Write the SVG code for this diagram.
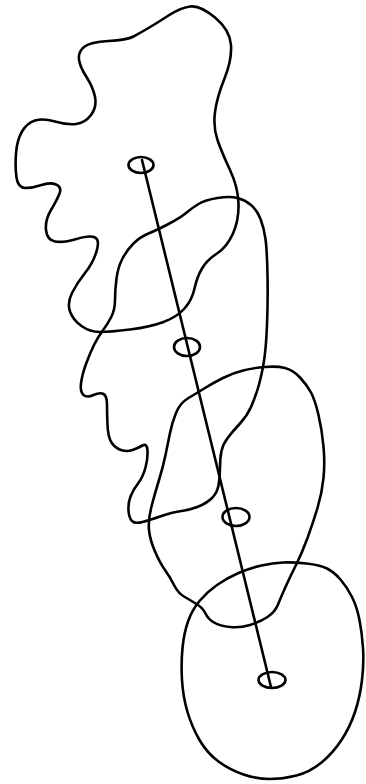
<svg xmlns="http://www.w3.org/2000/svg" width="366" height="784" viewBox="0 0 366 784">
<style>
.s{fill:none;stroke:#000;stroke-width:2.6;stroke-linejoin:round;stroke-linecap:round}
</style>
<rect width="366" height="784" fill="#fff"/>
<g id="blob1"><path class="s" d="M190,6.5 Q200,5 215,17.5 Q230,30 231,45 Q232,60 224.5,78.5 Q217,97 215,112 Q213,127 217.5,140 Q222,153 230,170 Q238,187 238.5,203.5 Q239,220 233,233.5 Q227,247 217,253.5 Q207,260 202,268.5 Q197,277 194.5,288.5 Q192,300 184.5,308.5 Q177,317 163.5,322 Q150,327 130,329.5 Q110,332 100,332 Q90,332 81.5,326 Q73,320 70,311.5 Q67,303 72,293 Q77,283 85,273 Q93,263 96.5,251.5 Q100,240 95,237.5 Q90,235 76.5,239 Q63,243 55,241.5 Q47,240 46,230 Q45,220 51,210 Q57,200 59.5,193.5 Q62,187 56,184.5 Q50,182 41.5,185 Q33,188 25.5,188 Q18,188 16.5,177.5 Q15,167 16,153.5 Q17,140 22,131.5 Q27,123 35,120.5 Q43,118 55,121.5 Q67,125 76,124 Q85,123 91,115 Q97,107 95,97 Q93,87 86.5,77 Q80,67 79,59.5 Q78,52 84,47 Q90,42 108.5,41 Q127,40 133.5,36.5 Q140,33 148.5,28 Q157,23 168.5,15.5 Q180,8 190,6.5 Z"/></g>
<g id="blob2"><path class="s" d="M217.5,198 Q230,196 237.5,198 Q245,200 251,205 Q257,210 260.5,219 Q264,228 265.5,239 Q267,250 267.5,275 Q268,300 267,325 Q266,350 263.5,364 Q261,378 258,388 Q255,398 251,407 Q247,416 240,423.5 Q233,431 228,437.5 Q223,444 221.5,451 Q220,458 220,468 Q220,478 218.5,485.5 Q217,493 212,498 Q207,503 198.5,506.5 Q190,510 181.5,511 Q173,512 161.5,516 Q150,520 142.5,522 Q135,524 132,521 Q129,518 128.5,510.5 Q128,503 130.5,496.5 Q133,490 138,483.5 Q143,477 145.5,467.5 Q148,458 147.5,450.5 Q147,443 142.5,445.5 Q138,448 132.5,450 Q127,452 121,450 Q115,448 111.5,442.5 Q108,437 107.5,425 Q107,413 107,404.5 Q107,396 103.5,394 Q100,392 93.5,395 Q87,398 83.5,395 Q80,392 81,383.5 Q82,375 86,364 Q90,353 94,345 Q98,337 102.5,331 Q107,325 111,317.5 Q115,310 115,300 Q115,290 116.5,278.5 Q118,267 122.5,258.5 Q127,250 133.5,243.5 Q140,237 148.5,233.5 Q157,230 168.5,224 Q180,218 186,213 Q192,208 198.5,204 Q205,200 217.5,198 Z"/></g>
<g id="blob3"><path class="s" d="M265,367 Q277,366 285,368 Q293,370 300,377.5 Q307,385 311,392.5 Q315,400 318.5,415 Q322,430 323.5,446.5 Q325,463 323.5,478 Q322,493 317.5,508 Q313,523 307.5,538 Q302,553 296,565 Q290,577 285.5,587 Q281,597 278,604.5 Q275,612 267.5,617 Q260,622 250,625 Q240,628 230,627 Q220,626 214,622.5 Q208,619 205.5,613.5 Q203,608 196.5,604 Q190,600 184,596.5 Q178,593 174,585 Q170,577 165,570 Q160,563 155,551.5 Q150,540 149,530 Q148,520 151.5,506.5 Q155,493 159,480 Q163,467 165.5,455 Q168,443 170,433 Q172,423 176,413 Q180,403 188.5,398 Q197,393 205,388 Q213,383 223,378 Q233,373 243,370.5 Q253,368 265,367 Z"/></g>
<g id="blob4"><path class="s" d="M283,562.5 Q293,562 306.5,563.5 Q320,565 327,568.5 Q334,572 340.5,579.5 Q347,587 352,597 Q357,607 359.5,620 Q362,633 363,648 Q364,663 362,680 Q360,697 355,712 Q350,727 341.5,740 Q333,753 321.5,762.5 Q310,772 296.5,775.5 Q283,779 270,779 Q257,779 243.5,774.5 Q230,770 218.5,761.5 Q207,753 199.5,740 Q192,727 187.5,712 Q183,697 182,680 Q181,663 182.5,648 Q184,633 188,621.5 Q192,610 199.5,601 Q207,592 217,585 Q227,578 238.5,573 Q250,568 261.5,565.5 Q273,563 283,562.5 Z"/></g>
<g id="connectors"><line class="s" x1="142" y1="160" x2="271" y2="687" stroke-width="3"/></g>
<g id="joint1"><ellipse class="s" cx="141" cy="165" rx="12.5" ry="8"/></g>
<g id="joint2"><ellipse class="s" cx="187" cy="347" rx="13" ry="9"/></g>
<g id="joint3"><ellipse class="s" cx="236" cy="517" rx="13.5" ry="9"/></g>
<g id="joint4"><ellipse class="s" cx="272" cy="680" rx="13.5" ry="8"/></g>
</svg>
